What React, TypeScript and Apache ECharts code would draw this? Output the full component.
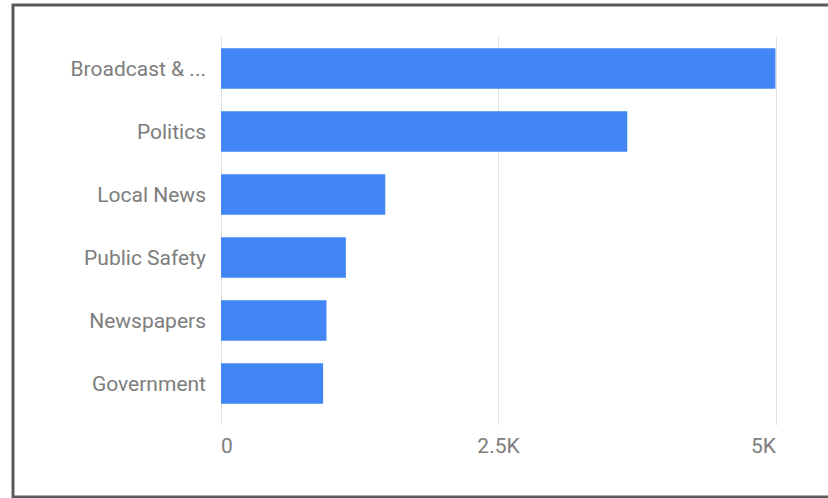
import React, { useEffect, useRef } from "react";
import * as echarts from "echarts";

const categories = ["Broadcast & ...", "Politics", "Local News", "Public Safety", "Newspapers", "Government"];
const values = [4995, 3660, 1480, 1125, 950, 920];
const xTickValues = [0, 2500, 5000];
const xTickLabels = ["0", "2.5K", "5K"];

export default function App() {
  const ref = useRef<HTMLDivElement>(null);
  useEffect(() => {
    if (!ref.current) return;
    const chart = echarts.init(ref.current, undefined, { renderer: "svg" });
    chart.setOption({
      animation: false,
      backgroundColor: "#ffffff",
      textStyle: { fontFamily: "Roboto" },
      graphic: [
        {
          type: "rect",
          shape: { x: 13, y: 5, width: 830, height: 492 },
          style: { fill: "none", stroke: "#5a5a5a", lineWidth: 3 },
          silent: true,
          z: 100,
        },
      ],
      grid: { left: 221, right: 52, top: 37, bottom: 83, containLabel: false },
      xAxis: {
        type: "value",
        min: 0,
        max: 5000,
        interval: 2500,
        axisLine: { show: false },
        axisTick: { show: true, length: 10, lineStyle: { color: "#e0e0e0", width: 1 } },
        splitLine: { show: true, lineStyle: { color: "#e0e0e0", width: 1 } },
        axisLabel: {
          margin: 20,
          fontSize: 21,
          color: "#7d7d7d",
          fontFamily: "Roboto",
          alignMinLabel: "left",
          alignMaxLabel: "right",
          formatter: (v: number) => {
            const i = xTickValues.indexOf(v);
            return i >= 0 ? xTickLabels[i] : "";
          },
        },
      },
      yAxis: {
        type: "category",
        data: categories,
        inverse: true,
        axisLine: { show: false },
        axisTick: { show: false },
        splitLine: { show: false },
        axisLabel: { margin: 15, fontSize: 21, color: "#7d7d7d", fontFamily: "Roboto" },
      },
      series: [
        {
          type: "bar",
          data: values,
          barCategoryGap: "36%",
          itemStyle: { color: "#4285f4" },
        },
      ],
    });
    return () => chart.dispose();
  }, []);
  return (
    <div
      ref={ref}
      style={{ position: "absolute", left: 0, top: 0, width: 828, height: 498 }}
    />
  );
}
